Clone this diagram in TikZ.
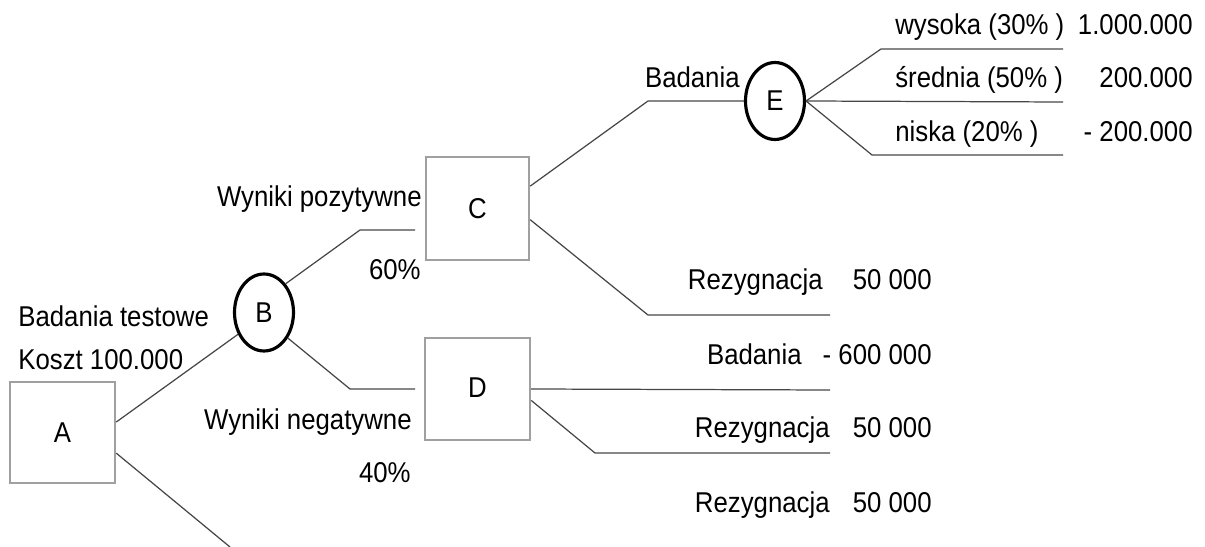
\documentclass[tikz,border=0pt]{standalone}
\usepackage{fontspec}
\setmainfont{Liberation Sans}[FakeStretch=0.9]
\usepackage{tikz}
\usetikzlibrary{shapes.geometric}

\definecolor{boxGray}{RGB}{160,160,160}
\definecolor{lineGray}{RGB}{70,70,70}

\begin{document}
\begin{tikzpicture}[%
    x=0.02cm, y=-0.02cm,
    decision/.style={%
        draw=boxGray,
        rectangle,
        line width=1.4pt,
        inner sep=0pt
    },
    chance/.style={%
        draw=black,
        ellipse,
        line width=1.8pt,
        inner sep=0pt,
        minimum width=1.18cm,
        minimum height=1.54cm
    },
    txtL/.style={%
        anchor=base west,
        inner sep=0pt
    },
    txtR/.style={%
        anchor=base east,
        inner sep=0pt
    },
    branch/.style={%
        draw=lineGray,
        line width=0.7pt
    },
    font=\fontsize{16.3pt}{19pt}\selectfont
]
\useasboundingbox (0,0) rectangle (1205,547);

% Decision nodes
    \node[decision, minimum width=2.1cm, minimum height=2.02cm] (A) at (62.5,432.5) {\raisebox{-0.17cm}{A}};
    \node[decision, minimum width=2.06cm, minimum height=2.06cm] (C) at (477.5,208.5) {\raisebox{-0.17cm}{C}};
    \node[decision, minimum width=2.1cm, minimum height=2.04cm] (D) at (477.5,389) {\raisebox{0.04cm}{D}};

% Chance nodes
    \node[chance] (B) at (264,312.5) {B};
    \node[chance] (E) at (775,101) {E};

% Knees and ends of branches
    \coordinate (aEnd) at (230,547);
    \coordinate (posKnee) at (360,230);
    \coordinate (posEnd) at (415,230);
    \coordinate (negKnee) at (350,389);
    \coordinate (negEnd) at (415,389);
    \coordinate (badKnee) at (648,101);
    \coordinate (rezKnee1) at (648,315);
    \coordinate (rezEnd1) at (830,315);
    \coordinate (badEnd2) at (830,390);
    \coordinate (rezKnee2) at (595,453);
    \coordinate (rezEnd2) at (830,453);
    \coordinate (highKnee) at (881,49);
    \coordinate (highEnd) at (1063,49);
    \coordinate (midEnd) at (1063,102);
    \coordinate (lowKnee) at (872,155);
    \coordinate (lowEnd) at (1063,155);

% Labels left
    \node[txtL] (testLbl) at (18,327) {Badania testowe};
    \node[txtL] (costLbl) at (18,370) {Koszt 100.000};
    \node[txtR] (posLbl) at (422,207) {Wyniki pozytywne};
    \node[txtR] (posPct) at (421,280) {60\%};
    \node[txtR] (negLbl) at (412,430) {Wyniki negatywne};
    \node[txtR] (negPct) at (411,482) {40\%};

% Labels top right
    \node[txtR] (badLbl) at (740,88) {Badania};
    \node[txtL] (highLbl) at (895,35) {wysoka (30\% )};
    \node[txtR] (highVal) at (1193,35) {1.000.000};
    \node[txtL] (midLbl) at (895,88) {średnia (50\% )};
    \node[txtR] (midVal) at (1193,88) {200.000};
    \node[txtL] (lowLbl) at (895,142) {niska (20\% )};
    \node[txtR] (lowVal) at (1193,142) {- 200.000};

% Labels middle right
    \node[txtR] (rezLbl1) at (823,290) {Rezygnacja};
    \node[txtR] (rezVal1) at (932,290) {50 000};
    \node[txtR] (badLbl2) at (802,365) {Badania};
    \node[txtR] (badVal2) at (932,365) {- 600 000};
    \node[txtR] (rezLbl2) at (830,438) {Rezygnacja};
    \node[txtR] (rezVal2) at (932,438) {50 000};
    \node[txtR] (rezLbl3) at (830,513) {Rezygnacja};
    \node[txtR] (rezVal3) at (932,513) {50 000};

% Branches
\draw[branch] (A.11) -- (B.220);
\draw[branch] (A.-21) -- (aEnd);

\draw[branch] (B.53) -- (posKnee) -- (posEnd);
\draw[branch] (B.-47) -- (negKnee) -- (negEnd);

\draw[branch] (C.23) -- (badKnee) -- (E.west);
\draw[branch] (C.-12) -- (rezKnee1) -- (rezEnd1);

\draw[branch] (D.east) -- (badEnd2);
\draw[branch] (D.-12) -- (rezKnee2) -- (rezEnd2);

\draw[branch] (E.east) -- (highKnee) -- (highEnd);
\draw[branch] (E.east) -- (midEnd);
\draw[branch] (E.east) -- (lowKnee) -- (lowEnd);

\end{tikzpicture}
\end{document}
